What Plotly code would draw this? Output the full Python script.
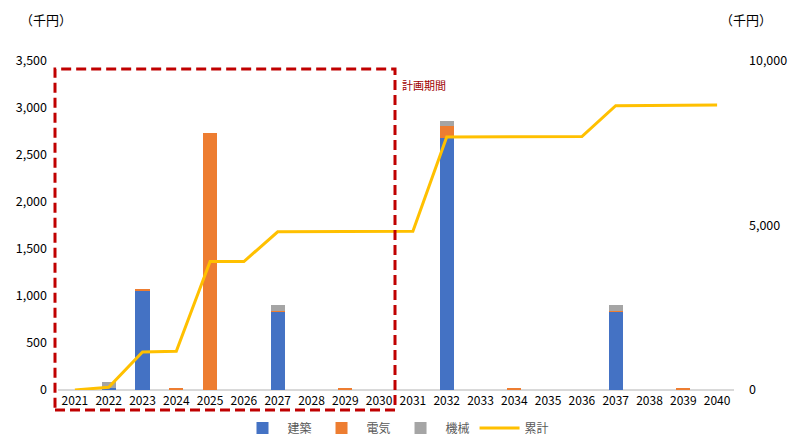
import plotly.graph_objects as go

years = list(range(2021, 2041))
year_labels = [str(y) for y in years]
kenchiku = [0, 20, 1055, 0, 0, 0, 830, 0, 0, 0, 0, 2685, 0, 0, 0, 0, 830, 0, 0, 0]
denki    = [0, 0, 15, 20, 2730, 0, 10, 0, 15, 0, 0, 120, 0, 15, 0, 0, 10, 0, 15, 0]
kikai    = [0, 65, 0, 0, 0, 0, 65, 0, 0, 0, 0, 60, 0, 0, 0, 0, 65, 0, 0, 0]
ruikei   = [0, 85, 1155, 1175, 3905, 3905, 4810, 4810, 4825, 4825, 4825, 7690, 7690, 7705, 7705, 7705, 8640, 8640, 8660, 8660]

left_ticks = [0, 500, 1000, 1500, 2000, 2500, 3000, 3500]
left_ticktext = ["0", "500", "1,000", "1,500", "2,000", "2,500", "3,000", "3,500"]
right_ticks = [0, 5000, 10000]
right_ticktext = ["0", "5,000", "10,000"]

FONT = "Noto Sans CJK JP"

fig = go.Figure()
fig.add_trace(go.Bar(x=years, y=kenchiku, name="建築", marker=dict(color="#4472C4", line=dict(width=0)), width=0.42))
fig.add_trace(go.Bar(x=years, y=denki, name="電気", marker=dict(color="#ED7D31", line=dict(width=0)), width=0.42))
fig.add_trace(go.Bar(x=years, y=kikai, name="機械", marker=dict(color="#A5A5A5", line=dict(width=0)), width=0.42))
fig.add_trace(go.Scatter(x=years, y=ruikei, name="累計", mode="lines", yaxis="y2",
                         line=dict(color="#FFC000", width=3)))

fig.update_layout(
    width=792, height=437,
    margin=dict(l=58, r=58, t=61, b=47, autoexpand=False),
    paper_bgcolor="white", plot_bgcolor="white",
    barmode="stack",
    font=dict(family=FONT, size=12, color="#000000"),
    xaxis=dict(tickmode="array", tickvals=years, ticktext=year_labels, range=[2020.5, 2040.5],
               showgrid=False, zeroline=False, showline=False, ticks="",
               tickfont=dict(size=12, color="#000000"), ticklabelstandoff=2),
    yaxis=dict(range=[0, 3500], tickvals=left_ticks, ticktext=left_ticktext, showgrid=False,
               zeroline=True, zerolinecolor="#D9D9D9", zerolinewidth=1.5, showline=False,
               tickfont=dict(size=12.5, color="#000000"), ticklabelstandoff=10),
    yaxis2=dict(range=[0, 10000], tickvals=right_ticks, ticktext=right_ticktext, overlaying="y",
                side="right", showgrid=False, zeroline=False, showline=False,
                tickfont=dict(size=12.5, color="#000000"), ticklabelstandoff=14),
    legend=dict(orientation="h", x=0.5, xanchor="center", y=(390 - 428) / 329, yanchor="middle",
                font=dict(size=12, color="#595959"), traceorder="normal", itemwidth=40),
    showlegend=True,
)

fig.add_shape(type="rect", xref="paper", yref="paper", x0=(55 - 58) / 676, x1=(395 - 58) / 676,
              y0=-0.061, y1=0.976,
              line=dict(color="#C00000", width=3, dash="10px,5px"), fillcolor="rgba(0,0,0,0)", layer="above")

fig.add_annotation(text="計画期間", xref="paper", yref="paper", x=(400 - 58) / 676, y=(390 - 85) / 329,
                   xanchor="left", yanchor="middle", showarrow=False,
                   font=dict(size=11, color="#A00000", family=FONT))
fig.add_annotation(text="（千円）", xref="paper", yref="paper", x=(18 - 58) / 676, y=(390 - 20) / 329,
                   xanchor="left", yanchor="middle", showarrow=False, font=dict(size=13, color="#000000"))
fig.add_annotation(text="（千円）", xref="paper", yref="paper", x=(718 - 58) / 676, y=(390 - 20) / 329,
                   xanchor="left", yanchor="middle", showarrow=False, font=dict(size=13, color="#000000"))

fig.write_html("out.html")
